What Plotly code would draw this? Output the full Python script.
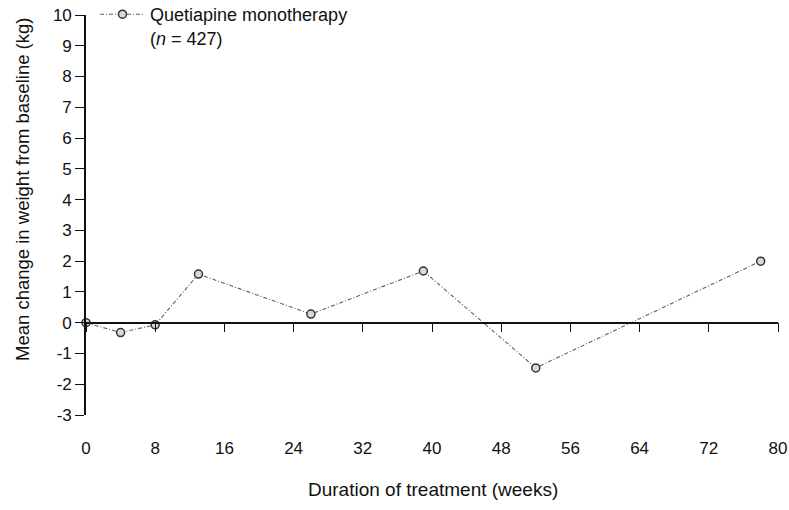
import plotly.graph_objects as go

weeks = [0, 4, 8, 13, 26, 39, 52, 78]
weight_change = [0.0, -0.32, -0.07, 1.58, 0.28, 1.68, -1.47, 2.0]
series_name = "Quetiapine monotherapy<br>(<i>n</i> = 427)"
x_ticks = [0, 8, 16, 24, 32, 40, 48, 56, 64, 72, 80]
y_ticks = list(range(-3, 11))
y_tick_text = [str(v) for v in y_ticks]  # plain hyphen minus as in the source
x_title = "Duration of treatment (weeks)"
y_title = "Mean change in weight from baseline (kg)"

FONT = "Liberation Sans, Arial, sans-serif"
y_min, y_max = -3, 10

fig = go.Figure()
fig.add_trace(go.Scatter(
    x=weeks, y=weight_change, name=series_name, mode="lines+markers",
    line=dict(color="#5e5e5e", width=1.1, dash="4px,2px,1px,2px"),
    marker=dict(symbol="circle", size=8, color="#d8d8d8",
                line=dict(color="#333333", width=1.5)),
    cliponaxis=False, showlegend=True,
))
# empty trace so the zero-line axis is drawn
fig.add_trace(go.Scatter(x=[], y=[], xaxis="x2", showlegend=False, hoverinfo="skip"))

fig.update_layout(
    width=789, height=510,
    margin=dict(l=86, r=11, t=15, b=95, autoexpand=False),
    paper_bgcolor="white", plot_bgcolor="white",
    font=dict(family=FONT, size=17, color="#111111"),
    showlegend=True,
    legend=dict(x=0.013, y=1.0475, xanchor="left", yanchor="top", valign="top",
                itemwidth=45,
                bgcolor="rgba(0,0,0,0)", font=dict(size=18, color="#111111"),
                tracegroupgap=0),
    xaxis=dict(range=[0, 80], tickvals=x_ticks, showline=False, ticks="",
               showgrid=False, zeroline=False, ticklabelstandoff=21,
               automargin=False, tickfont=dict(size=17)),
    xaxis2=dict(matches="x", overlaying="x", anchor="free",
                position=(0 - y_min) / (y_max - y_min),
                tickvals=x_ticks, showticklabels=False, ticks="outside",
                ticklen=9, tickwidth=1.3, tickcolor="#111111",
                showline=True, linecolor="#111111", linewidth=1.6,
                showgrid=False, zeroline=False, automargin=False),
    yaxis=dict(range=[y_min, y_max], tickvals=y_ticks, ticktext=y_tick_text,
               ticks="outside", ticklen=9, tickwidth=1.3, tickcolor="#111111",
               showline=True, linecolor="#111111", linewidth=1.6,
               showgrid=False, zeroline=False, automargin=False,
               tickfont=dict(size=17)),
    annotations=[
        dict(text=x_title, xref="paper", yref="paper", x=0.5014,
             y=(415 - 489) / 400, xanchor="center", yanchor="middle",
             showarrow=False, font=dict(size=19)),
        dict(text=y_title, xref="paper", yref="paper", x=(22 - 86) / 692,
             y=(415 - 190) / 400, xanchor="center", yanchor="middle",
             textangle=-90, showarrow=False, font=dict(size=18.5)),
    ],
)

fig.write_html("out.html")
